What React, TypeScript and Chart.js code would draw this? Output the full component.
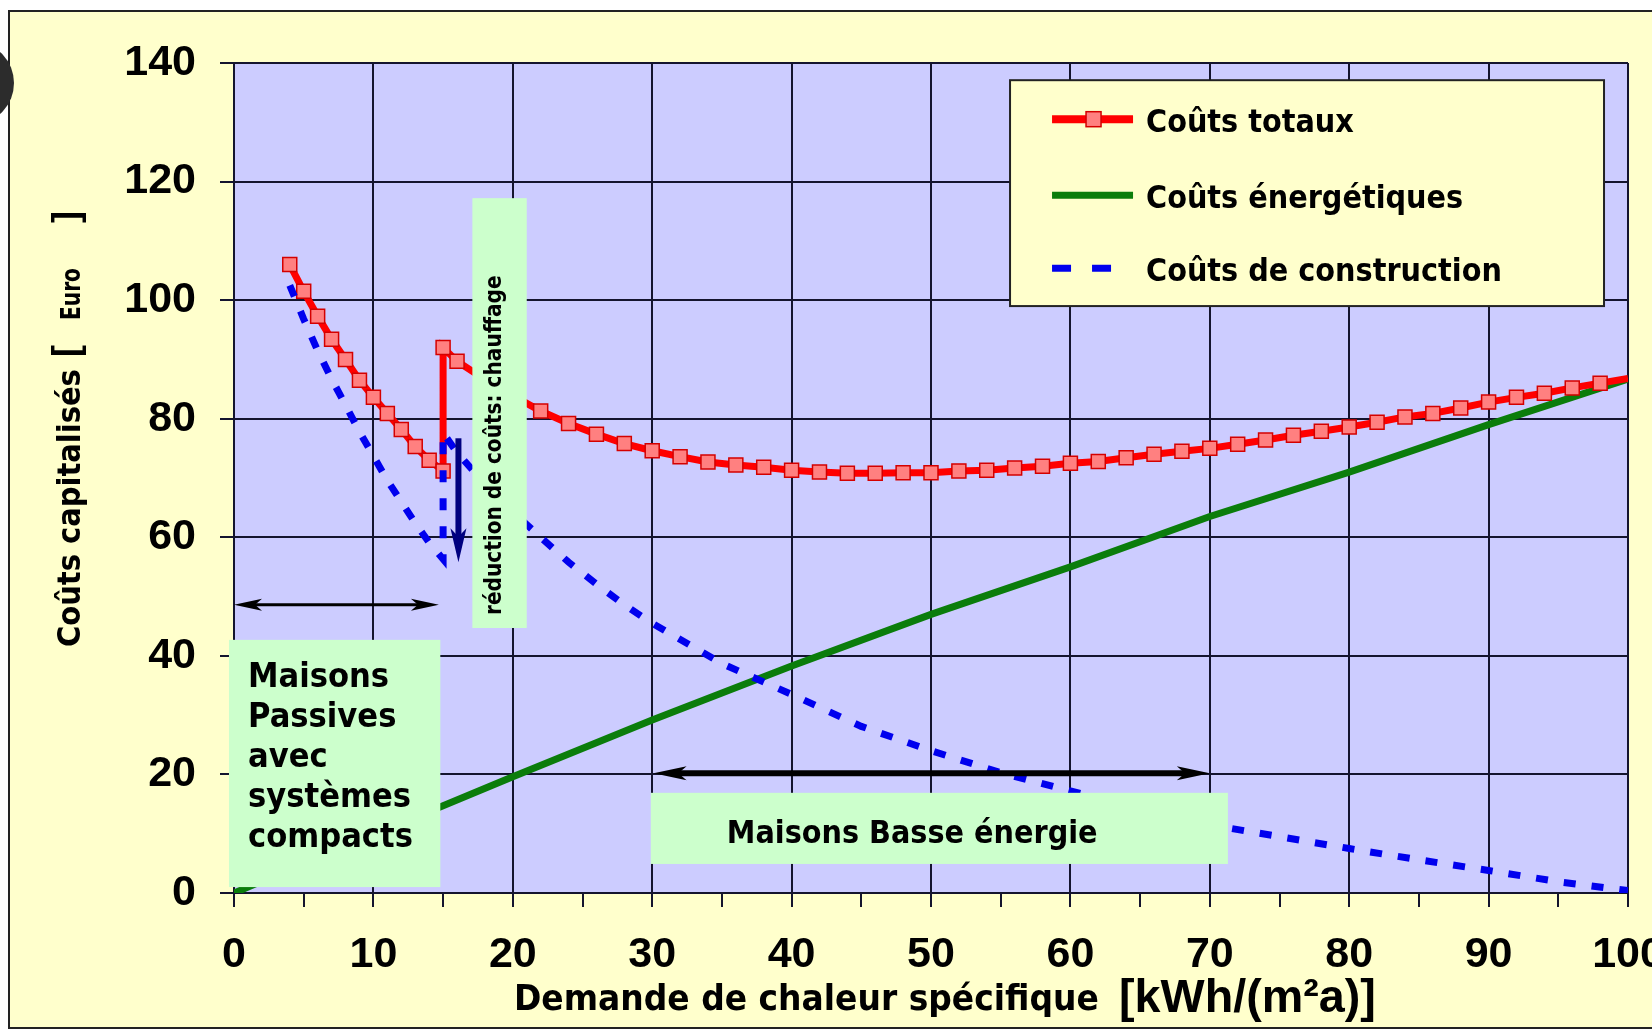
import React, { useEffect, useRef } from "react";
import { Chart, registerables } from "chart.js";

Chart.register(...registerables);

const W = 1652;
const H = 1029;

// ---------- data ----------
const seriesLabels = ["Coûts totaux", "Coûts énergétiques", "Coûts de construction"];

const totalX = [4, 5, 6, 7, 8, 9, 10, 11, 12, 13, 14, 15, 15, 16, 18, 20, 22, 24, 26, 28, 30, 32, 34, 36, 38, 40, 42, 44, 46, 48, 50, 52, 54, 56, 58, 60, 62, 64, 66, 68, 70, 72, 74, 76, 78, 80, 82, 84, 86, 88, 90, 92, 94, 96, 98, 100];
const totalY = [106, 101.5, 97.3, 93.4, 90, 86.5, 83.6, 80.9, 78.2, 75.3, 73, 71.2, 92, 89.7, 86.6, 83.9, 81.3, 79.2, 77.4, 75.8, 74.6, 73.6, 72.7, 72.2, 71.8, 71.3, 71.0, 70.8, 70.8, 70.9, 70.9, 71.2, 71.3, 71.7, 72.0, 72.5, 72.8, 73.4, 74.0, 74.5, 75.0, 75.7, 76.4, 77.2, 77.9, 78.6, 79.4, 80.3, 80.9, 81.8, 82.8, 83.6, 84.3, 85.2, 86.0, 86.8];

const energyX = [0, 5, 10, 15, 20, 30, 40, 50, 60, 70, 80, 90, 100];
const energyY = [0, 5, 9.9, 14.7, 19.6, 29.2, 38.3, 47, 55, 63.5, 71, 79, 86.7];

const constructionX = [4, 5, 6, 7, 8, 9, 10, 11, 12, 13, 14, 15, 15, 16, 18, 20, 22, 24, 26, 28, 30, 35, 40, 45, 50, 55, 60, 65, 70, 75, 80, 85, 90, 95, 100];
const constructionY = [102.5, 96.8, 91.5, 86.7, 82.3, 77.8, 73.7, 69.6, 66.0, 62.4, 59.1, 56.3, 77.6, 74.3, 69.0, 64.3, 60.0, 55.8, 52.1, 48.6, 45.5, 38.7, 33.5, 28.1, 24.0, 20.3, 17.2, 14.4, 11.5, 9.5, 7.5, 5.6, 3.8, 1.9, 0.4];

const xRange = [0, 100];
const xTickStep = 5;
const xLabelStep = 10;
const yRange = [0, 140];
const yTickStep = 20;

const yTitleMain = "Coûts capitalisés";
const yTitleOpen = "[";
const yTitleUnit = "Euro";
const yTitleClose = "]";
const xTitleMain = "Demande de chaleur spécifique";
const xTitleUnit = "[kWh/(m²a)]";
const passiveLines = ["Maisons", "Passives", "avec", "systèmes", "compacts"];
const lowEnergyLabel = "Maisons Basse énergie";
const reductionLabel = "réduction de coûts: chauffage";

// ---------- styles / annotation geometry (data units) ----------
const DARK = "#14142e";
const FRAME_BG = "#FFFFCC";
const PLOT_BG = "#CCCCFF";
const BOX_BG = "#CCFFCC";
const GOTHIC = '"DejaVu Sans", "Noto Sans", sans-serif';
const ARIAL = '"Liberation Sans", Arial, sans-serif';
const GROW = 1.1;

const ANN = {
  passiveBox: { x0: -0.36, x1: 14.8, y0: 42.7, y1: 1.0 },
  lowBox: { x0: 29.9, x1: 71.3, y0: 16.9, y1: 4.9 },
  reductionBox: { x0: 17.1, x1: 21.0, y0: 117.2, y1: 44.7 },
  passiveArrow: { x0: 0, x1: 14.7, y: 48.6 },
  lowArrow: { x0: 30.1, x1: 70, y: 20.2 },
  reductionArrow: { x: 16.1, y0: 76.7, y1: 55.8 },
  legendBox: { x0: 55.67, x1: 98.28, y0: 137.1, y1: 99.0 },
};

const toPoints = (xs: number[], ys: number[]) => xs.map((x, i) => ({ x, y: ys[i] }));

function fitSize(ctx: CanvasRenderingContext2D, text: string, family: string, target: number, weight = "bold") {
  ctx.font = `${weight} 100px ${family}`;
  const w = ctx.measureText(text).width;
  return (100 * target) / w;
}

// draw text at a given font size, squeezed horizontally by sx
function drawScaled(ctx: CanvasRenderingContext2D, text: string, x: number, y: number, size: number, family: string, sx: number, align: CanvasTextAlign = "left") {
  ctx.save();
  ctx.translate(x, y);
  ctx.scale(sx, 1);
  ctx.font = `bold ${size}px ${family}`;
  ctx.textAlign = align;
  ctx.fillText(text, 0, 0);
  ctx.restore();
}

function head(ctx: CanvasRenderingContext2D, tx: number, ty: number, ux: number, uy: number, len: number, half: number) {
  const bx = tx - ux * len;
  const by = ty - uy * len;
  const nx = -uy;
  const ny = ux;
  ctx.beginPath();
  ctx.moveTo(tx, ty);
  ctx.lineTo(bx + nx * half, by + ny * half);
  ctx.lineTo(tx - ux * len * 0.75, ty - uy * len * 0.75);
  ctx.lineTo(bx - nx * half, by - ny * half);
  ctx.closePath();
  ctx.fill();
}

function hArrow(ctx: CanvasRenderingContext2D, x0: number, x1: number, y: number, w: number, len: number, half: number, color: string) {
  ctx.save();
  ctx.strokeStyle = color;
  ctx.fillStyle = color;
  ctx.lineWidth = w;
  ctx.beginPath();
  ctx.moveTo(x0 + len * 0.6, y);
  ctx.lineTo(x1 - len * 0.6, y);
  ctx.stroke();
  head(ctx, x0, y, -1, 0, len, half);
  head(ctx, x1, y, 1, 0, len, half);
  ctx.restore();
}

const decor = {
  id: "decor",
  beforeDraw(chart: any) {
    const { ctx, chartArea: ca } = chart;
    ctx.save();
    ctx.fillStyle = "#ffffff";
    ctx.fillRect(0, 0, W, H);
    ctx.fillStyle = FRAME_BG;
    ctx.fillRect(9, 11, W, 1028 - 11);
    ctx.strokeStyle = "#222222";
    ctx.lineWidth = 2;
    ctx.strokeRect(9, 11, W + 20, 1028 - 11);
    // dark artifact at the left edge
    ctx.fillStyle = "#2c2c2c";
    ctx.beginPath();
    ctx.ellipse(-24, 83, 38, 40, 0, 0, Math.PI * 2);
    ctx.fill();
    ctx.fillStyle = PLOT_BG;
    ctx.fillRect(ca.left, ca.top, ca.right - ca.left, ca.bottom - ca.top);
    ctx.restore();
  },
  afterDatasetsDraw(chart: any) {
    const { ctx } = chart;
    const xs = chart.scales.x;
    const ys = chart.scales.y;
    const px = (v: number) => xs.getPixelForValue(v);
    const py = (v: number) => ys.getPixelForValue(v);
    ctx.save();

    // green boxes
    ctx.fillStyle = BOX_BG;
    for (const b of [ANN.passiveBox, ANN.lowBox, ANN.reductionBox]) {
      ctx.fillRect(px(b.x0), py(b.y0), px(b.x1) - px(b.x0), py(b.y1) - py(b.y0));
    }

    // arrows
    hArrow(ctx, px(ANN.passiveArrow.x0), px(ANN.passiveArrow.x1), py(ANN.passiveArrow.y), 3, 28, 6, "#000000");
    hArrow(ctx, px(ANN.lowArrow.x0), px(ANN.lowArrow.x1), py(ANN.lowArrow.y), 6, 33, 7, "#000000");
    {
      const ax = px(ANN.reductionArrow.x);
      const ay0 = py(ANN.reductionArrow.y0);
      const ay1 = py(ANN.reductionArrow.y1);
      ctx.strokeStyle = "#000080";
      ctx.fillStyle = "#000080";
      ctx.lineWidth = 6;
      ctx.beginPath();
      ctx.moveTo(ax, ay0);
      ctx.lineTo(ax, ay1 - 20);
      ctx.stroke();
      head(ctx, ax, ay1, 0, 1, 34, 8);
    }

    ctx.fillStyle = "#000000";
    ctx.textBaseline = "alphabetic";
    // passive houses text
    {
      const size = fitSize(ctx, passiveLines[4], GOTHIC, 165) * GROW;
      const left = px(ANN.passiveBox.x0) + 19;
      const top = py(ANN.passiveBox.y0);
      passiveLines.forEach((t, i) => drawScaled(ctx, t, left, top + 47 + i * 40, size, GOTHIC, 1 / GROW));
    }
    // low energy text
    {
      const size = fitSize(ctx, lowEnergyLabel, GOTHIC, 371) * GROW;
      drawScaled(ctx, lowEnergyLabel, px(ANN.lowBox.x0) + 76, py(ANN.lowBox.y0) + 50, size, GOTHIC, 1 / GROW);
    }
    // reduction text (rotated)
    {
      const size = fitSize(ctx, reductionLabel, GOTHIC, 340) * GROW;
      ctx.save();
      ctx.translate(px(ANN.reductionBox.x0) + 29, py(ANN.reductionBox.y0) + 247);
      ctx.rotate(-Math.PI / 2);
      drawScaled(ctx, reductionLabel, 0, 0, size, GOTHIC, 1 / GROW, "center");
      ctx.restore();
    }

    // legend
    {
      const lb = ANN.legendBox;
      const L = px(lb.x0);
      const T = py(lb.y0);
      const R = px(lb.x1);
      const B = py(lb.y1);
      ctx.fillStyle = FRAME_BG;
      ctx.fillRect(L, T, R - L, B - T);
      ctx.strokeStyle = "#222222";
      ctx.lineWidth = 2;
      ctx.strokeRect(L, T, R - L, B - T);
      const rows = [39, 115, 188];
      const size = fitSize(ctx, seriesLabels[2], GOTHIC, 356) * GROW;
      chart.data.datasets.forEach((ds: any, i: number) => {
        const y = T + rows[i];
        const s0 = L + 42;
        const s1 = L + 123;
        ctx.save();
        ctx.strokeStyle = ds.borderColor;
        ctx.lineWidth = i === 0 ? 8 : 7;
        ctx.lineCap = "butt";
        ctx.beginPath();
        if (i === 2) {
          ctx.setLineDash([19, 21]);
          ctx.moveTo(s0, y);
          ctx.lineTo(s0 + 59, y);
        } else {
          ctx.moveTo(s0, y);
          ctx.lineTo(s1, y);
        }
        ctx.stroke();
        ctx.setLineDash([]);
        if (i === 0) {
          ctx.fillStyle = ds.pointBackgroundColor;
          ctx.strokeStyle = ds.pointBorderColor;
          ctx.lineWidth = 1.5;
          ctx.fillRect(s0 + 34, y - 7.5, 15, 15);
          ctx.strokeRect(s0 + 34, y - 7.5, 15, 15);
        }
        ctx.restore();
        ctx.fillStyle = "#000000";
        ctx.textBaseline = "middle";
        drawScaled(ctx, ds.label, L + 136, y + 5, size, GOTHIC, 1 / GROW);
        ctx.textBaseline = "alphabetic";
      });
    }

    // y axis title
    {
      ctx.save();
      ctx.translate(80, 647);
      ctx.rotate(-Math.PI / 2);
      ctx.fillStyle = "#000000";
      ctx.textBaseline = "alphabetic";
      const s1 = fitSize(ctx, yTitleMain, GOTHIC, 278) * GROW;
      drawScaled(ctx, yTitleMain, 0, 0, s1, GOTHIC, 1 / GROW);
      drawScaled(ctx, yTitleOpen, 290, -2, 36, ARIAL, 1);
      const g2 = 1.35;
      const s2 = fitSize(ctx, yTitleUnit, GOTHIC, 52) * g2;
      drawScaled(ctx, yTitleUnit, 327, 0, s2, GOTHIC, 1 / g2);
      drawScaled(ctx, yTitleClose, 424, -2, 36, ARIAL, 1);
      ctx.restore();
    }
    // x axis title
    {
      ctx.fillStyle = "#000000";
      ctx.textBaseline = "alphabetic";
      const s1 = fitSize(ctx, xTitleMain, GOTHIC, 585) * GROW;
      drawScaled(ctx, xTitleMain, 514, 1010, s1, GOTHIC, 1 / GROW);
      const s2 = fitSize(ctx, xTitleUnit, ARIAL, 257);
      drawScaled(ctx, xTitleUnit, 1119, 1012, s2, ARIAL, 1);
    }
    ctx.restore();
  },
};

export default function App() {
  const ref = useRef<HTMLCanvasElement | null>(null);
  useEffect(() => {
    if (!ref.current) return;
    const tickFont = { family: ARIAL, size: 43, weight: "bold" as const };
    const chart = new Chart(ref.current, {
      type: "line",
      data: {
        datasets: [
          {
            label: seriesLabels[0],
            data: toPoints(totalX, totalY),
            borderColor: "#ff0000",
            borderWidth: 7,
            pointStyle: "rect",
            pointRadius: (c: any) => (c.raw && c.raw.x >= 100 ? 0 : 9.9),
            pointBackgroundColor: "#ff8080",
            pointBorderColor: "#d40000",
            pointBorderWidth: 1.5,
            tension: 0,
            order: 1,
          },
          {
            label: seriesLabels[1],
            data: toPoints(energyX, energyY),
            borderColor: "#0b7d0b",
            borderWidth: 7,
            pointRadius: 0,
            tension: 0,
            order: 2,
          },
          {
            label: seriesLabels[2],
            data: toPoints(constructionX, constructionY),
            borderColor: "#0000ee",
            borderWidth: 7,
            borderDash: [12, 16],
            borderCapStyle: "butt",
            pointRadius: 0,
            tension: 0,
            order: 0,
          },
        ] as any,
      },
      options: {
        animation: false,
        responsive: false,
        devicePixelRatio: 1,
        layout: { padding: { top: 63, right: 24, left: 0, bottom: 0 } },
        plugins: { legend: { display: false }, tooltip: { enabled: false } },
        events: [],
        scales: {
          x: {
            type: "linear",
            min: xRange[0],
            max: xRange[1],
            ticks: {
              stepSize: xTickStep,
              autoSkip: false,
              maxRotation: 0,
              padding: 22,
              color: "#000000",
              font: tickFont,
              callback: (v: any) => (Number(v) % xLabelStep === 0 ? String(v) : ""),
            },
            grid: {
              color: (c: any) => (c.tick && c.tick.value % xLabelStep === 0 ? DARK : "rgba(0,0,0,0)"),
              lineWidth: 2,
              tickColor: DARK,
              tickLength: 14,
              tickWidth: 2,
            },
            border: { color: DARK, width: 2 },
            afterFit: (s: any) => {
              s.height = H - 893;
              s.paddingLeft = 0;
              s.paddingRight = 0;
            },
          },
          y: {
            type: "linear",
            min: yRange[0],
            max: yRange[1],
            ticks: { stepSize: yTickStep, padding: 24, color: "#000000", font: tickFont },
            grid: { color: DARK, lineWidth: 2, tickColor: DARK, tickLength: 14, tickWidth: 2 },
            border: { color: DARK, width: 2 },
            afterFit: (s: any) => {
              s.width = 234;
              s.paddingTop = 0;
              s.paddingBottom = 0;
            },
          },
        },
      } as any,
      plugins: [decor as any],
    });
    return () => chart.destroy();
  }, []);
  return (
    <div style={{ position: "absolute", left: 0, top: 0, width: W, height: H, overflow: "hidden" }}>
      <canvas ref={ref} width={W} height={H} style={{ display: "block" }} />
    </div>
  );
}
